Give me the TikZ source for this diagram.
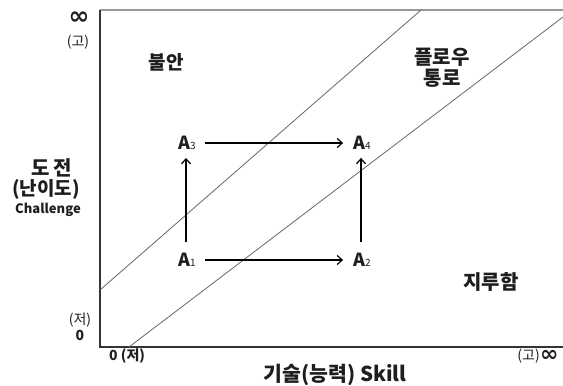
\documentclass[tikz,border=0pt]{standalone}
\usepackage{fontspec}
\setmainfont{Noto Sans CJK KR}
\newfontfamily\symf{DejaVu Sans}
\usetikzlibrary{arrows.meta}
\definecolor{txt}{HTML}{1E1E1E}
\tikzset{
  lbl/.style={inner sep=0pt, text=txt, font=\bfseries\fontsize{20}{22}\selectfont, align=center},
  small/.style={inner sep=0pt, text=txt, font=\fontsize{14}{16}\selectfont},
  anode/.style={inner sep=0pt, text=txt, font=\bfseries\fontsize{18}{20}\selectfont},
  arr/.style={draw=black, line width=1.3pt, -{Straight Barb[length=5pt,width=9pt,line width=1.2pt]}},
  axis/.style={draw=black!80, line width=1.2pt},
  diag/.style={draw=black!60, line width=0.8pt},
}
\newcommand{\Asub}[1]{A{\mdseries\fontsize{10}{10}\selectfont #1}}
\begin{document}
\begin{tikzpicture}[x=1pt,y=-1pt]
\useasboundingbox (0,0) rectangle (563,386);
% axes
\coordinate (O) at (100,347);
\coordinate (TL) at (100,10);
\coordinate (BR) at (563,347);
\coordinate (TR) at (563,10);
\draw[draw=black!40, line width=1.4pt] (TL) -- (TR);
\draw[axis] (TL) -- (O) -- (BR);
% flow channel lines
\draw[diag] (100,290) -- (421,10);
\draw[diag] (129,347) -- (563,17);
% region labels
\node[lbl, font=\bfseries\fontsize{19}{22}\selectfont] (anx) at (166,62) {불안};
\node[lbl, align=center] (flow) at (442,68) {플로우\\[-1pt]통로};
\node[lbl] (bore) at (491,282) {지루함};
% y-axis labels
\node[inner sep=0pt, text=txt] (inf1) at (79,18) {\symf\bfseries\fontsize{25}{25}\selectfont ∞};
\node[small] (hi1) at (78,42) {(고)};
\node[lbl, font=\bfseries\fontsize{20}{22}\selectfont] (dj) at (52,168) {도\,전};
\node[lbl, font=\bfseries\fontsize{19}{22}\selectfont] (nd) at (46,189) {(난이도)};
\node[lbl, font=\bfseries\fontsize{13}{16}\selectfont] (ch) at (48,210) {Challenge};
\node[small] (lo1) at (80,320) {(저)};
\node[small, font=\bfseries\fontsize{14}{16}\selectfont] (z1) at (80,335) {0};
% x-axis labels
\node[small, font=\bfseries\fontsize{14}{16}\selectfont, anchor=west] (z2) at (109,356) {0 (저)};
\node[lbl, font=\bfseries\fontsize{20.5}{22}\selectfont] (sk) at (335,375) {기술(능력) Skill};
\node[small, anchor=east] (hi2) at (540,356) {(고)};
\node[inner sep=0pt, text=txt, anchor=west] (inf2) at (540,356) {\symf\bfseries\fontsize{22}{22}\selectfont ∞};
% states
\node[anode] (A3) at (187,143) {\Asub{3}};
\node[anode] (A4) at (362,143) {\Asub{4}};
\node[anode] (A1) at (187,260) {\Asub{1}};
\node[anode] (A2) at (362,260) {\Asub{2}};
% arrows
\draw[arr, shorten <=9pt, shorten >=10pt] (A3.east) -- (A4.west);
\draw[arr, shorten <=9pt, shorten >=10pt] (A1.east) -- (A2.west);
\draw[arr, shorten <=11pt, shorten >=8pt] ([xshift=-1pt]A1.north) -- ([xshift=-1pt]A3.south);
\draw[arr, shorten <=11pt, shorten >=8pt] ([xshift=-1pt]A2.north) -- ([xshift=-1pt]A4.south);
\end{tikzpicture}
\end{document}
